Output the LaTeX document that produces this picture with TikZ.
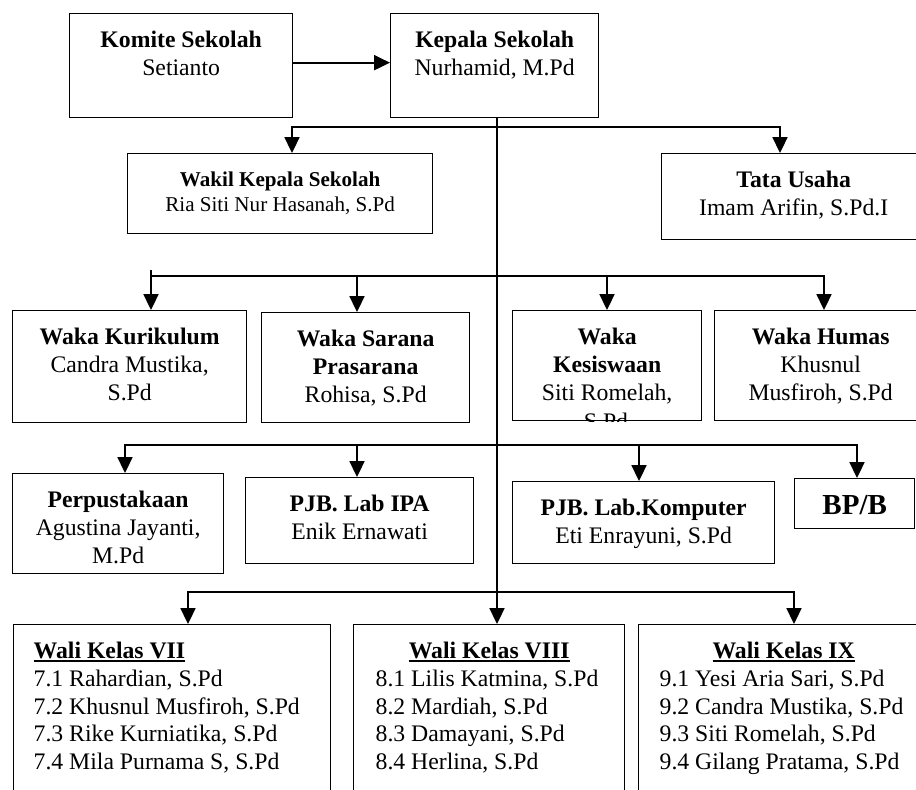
\documentclass[tikz,border=0pt]{standalone}
\usepackage{fontspec}
\setmainfont{Liberation Serif}
\usetikzlibrary{arrows.meta}

% box text: width and height in pixels, text starts at the top
\newcommand{\orgtext}[3]{\parbox[t][\dimexpr0.02cm*#2\relax][t]{\dimexpr0.02cm*#1\relax}{\vspace*{8.5pt}#3}}
\newcommand{\hdr}[1]{\setbox0\hbox{\textbf{#1}}\rlap{\rule[-1.8pt]{\wd0}{1.1pt}}\box0}

\begin{document}
\begin{tikzpicture}[x=0.02cm,y=-0.02cm,
  box/.style={draw,line width=0.75pt,inner sep=0pt,anchor=north west,
    font=\fontsize{13.5}{15.7}\selectfont},
  link/.style={line width=1pt,line cap=rect},
  arr/.style={link,-{Triangle[length=9pt,width=8.5pt]}}]
  \useasboundingbox (0,0) rectangle (916,789);
  \clip (0,0) rectangle (916,789);

  % top
  \node[box] (komite) at (69,13) {\orgtext{223}{104}{\centering\strut\textbf{Komite Sekolah}\\Setianto}};
  \node[box] (kepala) at (390,13) {\orgtext{208}{104}{\centering\strut\textbf{Kepala Sekolah}\\Nurhamid, M.Pd}};
  \node[box] (wakil) at (127,153) {\orgtext{305}{80}{\fontsize{12}{14.2}\selectfont\centering\strut\textbf{Wakil Kepala Sekolah}\\Ria Siti Nur Hasanah, S.Pd}};
  \node[box] (tata) at (661,153) {\orgtext{264}{86}{\centering\strut\textbf{Tata Usaha}\\Imam Arifin, S.Pd.I}};

  % wakil kepala
  \node[box] (kurikulum) at (12,310) {\orgtext{234}{112}{\centering\strut\textbf{Waka Kurikulum}\\Candra Mustika,\\S.Pd}};
  \node[box] (sarana) at (261,312) {\orgtext{208}{110}{\centering\strut\textbf{Waka Sarana}\\\textbf{Prasarana}\\Rohisa, S.Pd}};
  \node[box] (kesiswaan) at (512,310) {\orgtext{189}{110}{\centering\strut\textbf{Waka}\\\textbf{Kesiswaan}\\Siti Romelah,}};
  \node[box] (humas) at (714,310) {\orgtext{212}{110}{\centering\strut\textbf{Waka Humas}\\Khusnul\\Musfiroh, S.Pd}};
  \begin{scope}
    \clip (kesiswaan.south west) rectangle (kesiswaan.north east);
    \node[font=\fontsize{13.5}{15.7}\selectfont,anchor=base] (kesiswaanpd) at (606,429) {S.Pd};
  \end{scope}

  % penanggung jawab
  \node[box] (perpus) at (12,473) {\orgtext{211}{100}{\centering\strut\textbf{Perpustakaan}\\Agustina Jayanti,\\M.Pd}};
  \node[box] (labipa) at (245,477) {\orgtext{228}{86}{\centering\strut\textbf{PJB. Lab IPA}\\Enik Ernawati}};
  \node[box] (labkom) at (512,481) {\orgtext{262}{82}{\centering\strut\textbf{PJB. Lab.Komputer}\\Eti Enrayuni, S.Pd}};
  \node[box] (bpb) at (794,478) {\orgtext{120}{50}{\fontsize{16.5}{19}\selectfont\vspace*{-1.5pt}\centering\strut\textbf{BP/B}}};

  % wali kelas
  \node[box] (wali7) at (13,624) {\orgtext{317}{200}{\raggedright\leftskip=0.4cm\strut\hdr{Wali Kelas VII}\\
    7.1 Rahardian, S.Pd\\7.2 Khusnul Musfiroh, S.Pd\\7.3 Rike Kurniatika, S.Pd\\7.4 Mila Purnama S, S.Pd}};
  \node[box] (wali8) at (353,624) {\orgtext{271}{200}{\centering\strut\hdr{Wali Kelas VIII}\par
    \raggedright\leftskip=0.44cm 8.1 Lilis Katmina, S.Pd\\8.2 Mardiah, S.Pd\\8.3 Damayani, S.Pd\\8.4 Herlina, S.Pd}};
  \node[box] (wali9) at (638,624) {\orgtext{290}{200}{\centering\strut\hdr{Wali Kelas IX}\par
    \raggedright\leftskip=0.42cm 9.1 Yesi Aria Sari, S.Pd\\9.2 Candra Mustika, S.Pd\\9.3 Siti Romelah, S.Pd\\9.4 Gilang Pratama, S.Pd}};

  % lines
  \coordinate (trunk) at (497,0);
  \coordinate (a1) at (292,127); \coordinate (a2) at (780,127);
  \coordinate (b0) at (151,271); \coordinate (b1) at (151,276);
  \coordinate (b2) at (357,276); \coordinate (b3) at (607,276); \coordinate (b4) at (824,276);
  \coordinate (c1) at (125,445); \coordinate (c2) at (357,445);
  \coordinate (c3) at (639,445); \coordinate (c4) at (857,445);
  \coordinate (d1) at (188,592); \coordinate (d3) at (794,592);

  \draw[arr] ([yshift=0.06cm]komite.east) -- ([yshift=0.06cm]kepala.west);
  \draw[arr] (kepala.south -| trunk) -- (wali8.north -| trunk);

  \draw[link] (a1) -- (a2);
  \draw[arr] (a1) -- (a1 |- wakil.north);
  \draw[arr] (a2) -- (a2 |- tata.north);

  \draw[link] (b1) -- (b4);
  \draw[arr] (b0) -- (b0 |- kurikulum.north);
  \draw[arr] (b2) -- (b2 |- sarana.north);
  \draw[arr] (b3) -- (b3 |- kesiswaan.north);
  \draw[arr] (b4) -- (b4 |- humas.north);

  \draw[link] (c1) -- (c4);
  \draw[arr] (c1) -- (c1 |- perpus.north);
  \draw[arr] (c2) -- (c2 |- labipa.north);
  \draw[arr] (c3) -- (c3 |- labkom.north);
  \draw[arr] (c4) -- (c4 |- bpb.north);

  \draw[link] (d1) -- (d3);
  \draw[arr] (d1) -- (d1 |- wali7.north);
  \draw[arr] (d3) -- (d3 |- wali9.north);
\end{tikzpicture}
\end{document}
